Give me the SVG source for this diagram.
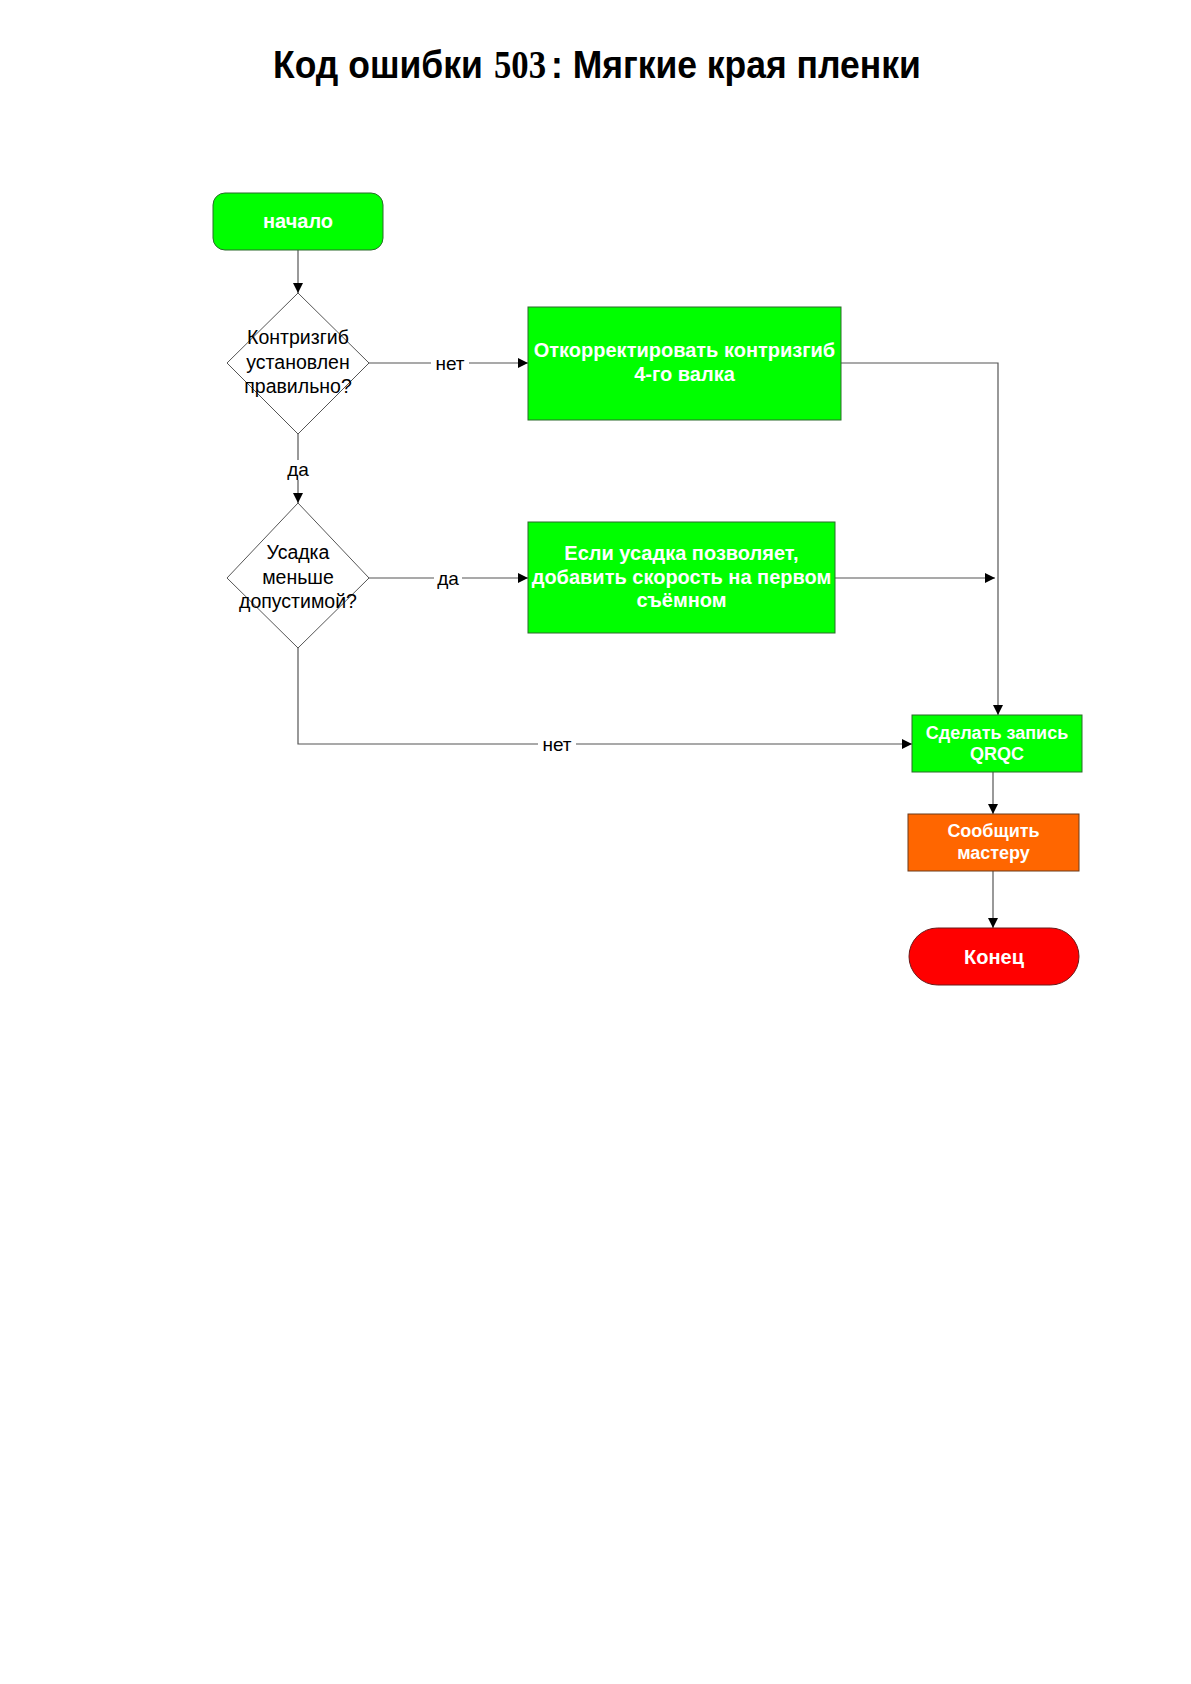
<svg xmlns="http://www.w3.org/2000/svg" width="1191" height="1684" viewBox="0 0 1191 1684">
  <defs>
    <marker id="arrow" viewBox="0 0 10 10" refX="10" refY="5" markerWidth="10" markerHeight="10" markerUnits="userSpaceOnUse" orient="auto">
      <path d="M0,0 L10,5 L0,10 Z" fill="#000"/>
    </marker>
    <style>
      .title { font-family: "Liberation Sans", Arial, sans-serif; font-weight: bold; font-size: 39px; fill: #000; }
      .num { font-family: "Liberation Serif", "Times New Roman", serif; }
      .edge { fill: none; stroke: #555; stroke-width: 1.2; }
      .arr { marker-end: url(#arrow); }
      .green { fill: #00ff00; stroke: #2b6b2b; stroke-width: 1; }
      .orange { fill: #ff6600; stroke: #6b3a1a; stroke-width: 1; }
      .red { fill: #ff0000; stroke: #6b1a1a; stroke-width: 1; }
      .dec { fill: #fff; stroke: #555; stroke-width: 1; }
      .wt { font-family: "Liberation Sans", Arial, sans-serif; font-weight: bold; font-size: 20px; fill: #fff; text-anchor: middle; }
      .sm { font-size: 18px; }
      .bt { font-family: "Liberation Sans", Arial, sans-serif; font-size: 19.5px; fill: #000; text-anchor: middle; }
      .lbl { font-family: "Liberation Sans", Arial, sans-serif; font-size: 19px; fill: #000; text-anchor: middle; dominant-baseline: central; }
      .lblbg { fill: #fff; }
    </style>
  </defs>

  <rect width="1191" height="1684" fill="#fff"/>

  <!-- heading: condensed sans with the code number in serif -->
  <g id="title">
    <text class="title" transform="translate(273,78) scale(0.91,1)">Код ошибки</text>
    <text class="title num" transform="translate(494,78) scale(0.89,1)">503</text>
    <text class="title" transform="translate(551,78) scale(0.91,1)">: Мягкие края пленки</text>
  </g>

  <!-- connectors -->
  <g id="connectors">
    <path class="edge arr" d="M298,250 V293"/>
    <path class="edge arr" d="M369,363 H528"/>
    <path class="edge arr" d="M298,434 V503"/>
    <path class="edge arr" d="M369,578 H528"/>
    <path class="edge arr" d="M298,648 V744 H912"/>
    <path class="edge arr" d="M841,363 H998 V715"/>
    <path class="edge arr" d="M835,578 H995"/>
    <path class="edge arr" d="M993,772 V814"/>
    <path class="edge arr" d="M993,871 V928"/>

    <rect class="lblbg" x="431" y="353" width="38" height="20"/>
    <text class="lbl" x="450" y="363">нет</text>
    <rect class="lblbg" x="284" y="460" width="28" height="20"/>
    <text class="lbl" x="298" y="469">да</text>
    <rect class="lblbg" x="434" y="568" width="28" height="20"/>
    <text class="lbl" x="448" y="578">да</text>
    <rect class="lblbg" x="538" y="734" width="38" height="20"/>
    <text class="lbl" x="557" y="744">нет</text>
  </g>

  <g id="start">
    <rect class="green" x="213" y="193" width="170" height="57" rx="12"/>
    <text class="wt" x="298" y="228">начало</text>
  </g>

  <g id="check-counterbend">
    <polygon class="dec" points="298,293 369,363 298,434 227,363"/>
    <text class="bt" x="298" y="344">Контризгиб</text>
    <text class="bt" x="298" y="369">установлен</text>
    <text class="bt" x="298" y="393">правильно?</text>
  </g>

  <g id="fix-counterbend">
    <rect class="green" x="528" y="307" width="313" height="113"/>
    <text class="wt" x="684.5" y="357">Откорректировать контризгиб</text>
    <text class="wt" x="684.5" y="381">4-го валка</text>
  </g>

  <g id="check-shrink">
    <polygon class="dec" points="298,503 369,578 298,648 227,578"/>
    <text class="bt" x="298" y="559">Усадка</text>
    <text class="bt" x="298" y="584">меньше</text>
    <text class="bt" x="298" y="608">допустимой?</text>
  </g>

  <g id="add-speed">
    <rect class="green" x="528" y="522" width="307" height="111"/>
    <text class="wt" x="681.5" y="560">Если усадка позволяет,</text>
    <text class="wt" x="681.5" y="584">добавить скорость на первом</text>
    <text class="wt" x="681.5" y="607">съёмном</text>
  </g>

  <g id="qrqc">
    <rect class="green" x="912" y="715" width="170" height="57"/>
    <text class="wt sm" x="997" y="739">Сделать запись</text>
    <text class="wt sm" x="997" y="760">QRQC</text>
  </g>

  <g id="notify">
    <rect class="orange" x="908" y="814" width="171" height="57"/>
    <text class="wt sm" x="993.5" y="837">Сообщить</text>
    <text class="wt sm" x="993.5" y="859">мастеру</text>
  </g>

  <g id="end">
    <rect class="red" x="909" y="928" width="170" height="57" rx="28.5"/>
    <text class="wt" x="994" y="964">Конец</text>
  </g>
</svg>
